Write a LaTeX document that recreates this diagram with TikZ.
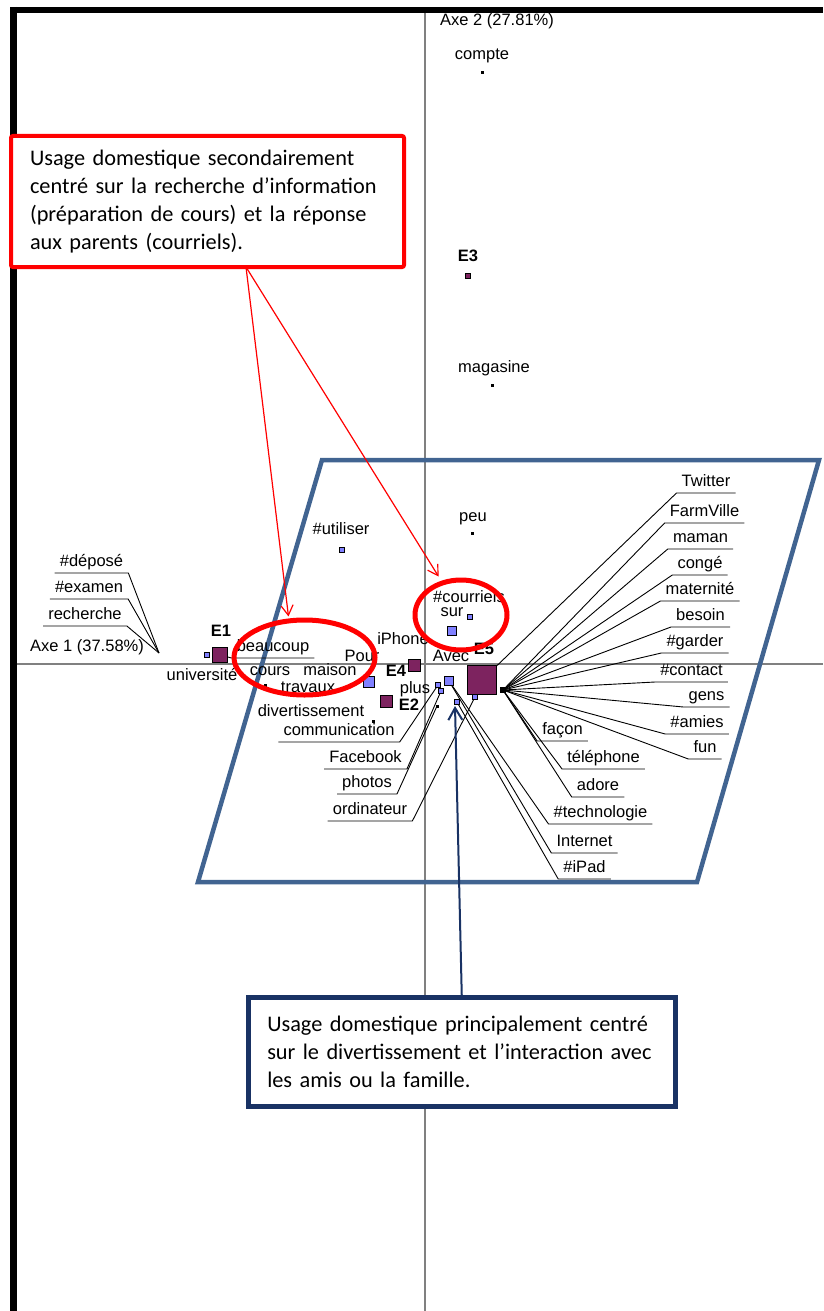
\documentclass[tikz,border=0pt]{standalone}
\usepackage{fontspec}
\setmainfont{Liberation Sans}
\newfontfamily\notefont{Carlito}
\usetikzlibrary{arrows.meta,shapes.geometric}
\definecolor{plum}{RGB}{125,35,95}
\definecolor{lavblue}{RGB}{128,128,255}
\definecolor{zoneblue}{RGB}{65,100,145}
\definecolor{navy}{RGB}{25,50,100}
\definecolor{axgray}{RGB}{128,128,128}
\tikzset{
  axis/.style={axgray, line width=1.4pt},
  lbl/.style={font=\fontsize{16.5}{18}\selectfont, inner sep=0pt, text height=11.5pt, text depth=3.5pt},
  elbl/.style={lbl, font=\fontsize{16.5}{18}\selectfont\bfseries},
  ul/.style={lbl, inner xsep=5pt, inner ysep=1pt, text depth=5pt, anchor=south},
  lead/.style={black, line width=0.9pt},
  dot/.style={fill=black, inner sep=0pt, minimum size=3pt},
  msq/.style={draw=black, fill=plum, line width=1pt, inner sep=0pt},
  bsq/.style={draw=black, fill=lavblue, line width=0.8pt, inner sep=0pt},
  ring/.style={ellipse, draw=red, line width=5pt, inner sep=0pt},
  note/.style={font=\notefont\fontsize{22.3}{28}\selectfont, align=left, anchor=north west, inner xsep=19pt, fill=white},
  redarr/.style={red, line width=1.2pt, -{Straight Barb[length=10pt,width=12pt]}},
  navyarr/.style={navy, line width=2pt, -{Straight Barb[length=12pt,width=14pt]}},
}
\begin{document}
\begin{tikzpicture}[x=1pt,y=-1pt]
\useasboundingbox (0,0) rectangle (823,1311);
% frame and axes
\draw[line width=6pt] (10,10) -- (823,10);
\draw[line width=7pt] (13.5,7) -- (13.5,1311);
\draw[axis] (425,13) -- (425,1311);
\draw[axis] (17,664) -- (823,664);
\node[lbl] (ax2) at (497,22) {Axe 2 (27.81\%)};
\node[lbl] (ax1) at (87,647) {Axe 1 (37.58\%)};
% points
\coordinate (axpt) at (159,653);
\coordinate (hub) at (503,690);
\coordinate (e1) at (220,655);
\coordinate (e5) at (482,680);
\coordinate (sqa) at (449,681);
\coordinate (sqp1) at (438,685);
\coordinate (sqp2) at (441,691);
\coordinate (sqc) at (457,702);
\coordinate (sqe5) at (475,697);
\coordinate (dotf) at (437,706);
% zone
\draw[zoneblue, line width=4.5pt, line join=miter] (322,460) -- (819,460) -- (697,882) -- (198,882) -- cycle;
% labels with leaders
\node[ul] (tw) at (706,493) {Twitter};
\node[ul] (fv) at (704.5,523) {FarmVille};
\node[ul] (mam) at (700.5,549) {maman};
\node[ul] (cg) at (700,575) {congé};
\node[ul] (mat) at (700,601) {maternité};
\node[ul] (bes) at (700.5,627) {besoin};
\node[ul] (gar) at (695,653) {\#garder};
\node[ul] (con) at (691.5,682) {\#contact};
\node[ul] (gen) at (706.5,707) {gens};
\node[ul] (ami) at (697,734) {\#amies};
\node[ul] (fun) at (705,759) {fun};
\node[ul] (fac) at (562.5,741) {façon};
\node[ul] (tel) at (603.5,769) {téléphone};
\node[ul] (ado) at (598,797) {adore};
\node[ul] (tec) at (600.5,824) {\#technologie};
\node[ul] (int) at (584.5,853) {Internet};
\node[ul] (ipd) at (584.5,879) {\#iPad};
\node[ul] (com) at (339,742) {communication};
\node[ul] (fb) at (365.5,769) {Facebook};
\node[ul] (pho) at (367,794) {photos};
\node[ul] (ord) at (370,821) {ordinateur};
\node[ul] (dep) at (91.5,573) {\#déposé};
\node[ul] (exa) at (89,599) {\#examen};
\node[ul] (rec) at (85,626) {recherche};
\node[ul] (bcp) at (273,658) {beaucoup};
\draw[lead] (tw.south east) -- (tw.south west) -- (e5);
\draw[lead] (fv.south east) -- (fv.south west) -- (hub);
\draw[lead] (mam.south east) -- (mam.south west) -- (hub);
\draw[lead] (cg.south east) -- (cg.south west) -- (hub);
\draw[lead] (mat.south east) -- (mat.south west) -- (hub);
\draw[lead] (bes.south east) -- (bes.south west) -- (hub);
\draw[lead] (gar.south east) -- (gar.south west) -- (hub);
\draw[lead] (con.south east) -- (con.south west) -- (hub);
\draw[lead] (gen.south east) -- (gen.south west) -- (hub);
\draw[lead] (ami.south east) -- (ami.south west) -- (hub);
\draw[lead] (fun.south east) -- (fun.south west) -- (hub);
\draw[lead] (fac.south east) -- (fac.south west) -- (hub);
\draw[lead] (tel.south east) -- (tel.south west) -- (hub);
\draw[lead] (ado.south east) -- (ado.south west) -- (hub);
\draw[lead] (tec.south east) -- (tec.south west) -- (sqa);
\draw[lead] (int.south east) -- (int.south west) -- (sqa);
\draw[lead] (ipd.south east) -- (ipd.south west) -- (sqc);
\draw[lead] (com.south west) -- (com.south east) -- (sqp1);
\draw[lead] (fb.south west) -- (fb.south east) -- (sqp2);
\draw[lead] (pho.south west) -- (pho.south east) -- (dotf);
\draw[lead] (ord.south west) -- (ord.south east) -- (sqe5);
\draw[lead] (dep.south west) -- (dep.south east) -- (axpt);
\draw[lead] (exa.south west) -- (exa.south east) -- (axpt);
\draw[lead] (rec.south west) -- (rec.south east) -- (axpt);
\draw[lead] (bcp.south east) -- (bcp.south west) -- (e1);
% markers
\node[dot] (compte) at (482,73) {};
\node[dot] (magasine) at (492,385) {};
\node[dot] (peu) at (472,533) {};
\node[dot] (cours) at (265,685) {};
\node[dot] (maison) at (345,688) {};
\node[dot] (travaux) at (300,695) {};
\node[dot] (divert) at (373,721) {};
\node[dot] (photos) at (dotf) {};
\node[dot, minimum size=6pt] (hubsq) at (hub) {};
\node[msq, minimum size=5pt] (E3) at (468,276) {};
\node[msq, minimum size=15pt] (E1) at (e1) {};
\node[msq, minimum size=12pt] (E4) at (414,665) {};
\node[msq, minimum size=12pt] (E2) at (386,701) {};
\node[msq, minimum size=29pt] (E5) at (e5) {};
\node[bsq, minimum size=5pt] (utiliser) at (342,550) {};
\node[bsq, minimum size=5pt] (univ) at (207,655) {};
\node[bsq, minimum size=9pt] (courriels) at (452,631) {};
\node[bsq, minimum size=5pt] (sur) at (470,617) {};
\node[bsq, minimum size=11pt] (pour) at (369,682) {};
\node[bsq, minimum size=9pt] (avec) at (sqa) {};
\node[bsq, minimum size=5pt] (plus1) at (sqp1) {};
\node[bsq, minimum size=5pt] (plus2) at (sqp2) {};
\node[bsq, minimum size=5pt] (ipad) at (sqc) {};
\node[bsq, minimum size=5pt] (ordi) at (sqe5) {};
% plain labels
\node[lbl] (tcompte) at (482,56) {compte};
\node[elbl] (tE3) at (468,257) {E3};
\node[lbl] (tmag) at (494,368) {magasine};
\node[lbl] (tpeu) at (473,517) {peu};
\node[lbl] (tutil) at (341,530) {\#utiliser};
\node[lbl] (tcour) at (469,598) {\#courriels};
\node[lbl] (tsur) at (452,612) {sur};
\node[lbl] (tiph) at (403,640) {iPhone};
\node[lbl] (tpour) at (362,657) {Pour};
\node[elbl] (tE4) at (396,672) {E4};
\node[lbl] (tavec) at (451,657) {Avec};
\node[elbl] (tE5) at (484,650) {E5};
\node[lbl] (tplus) at (415,689) {plus};
\node[elbl] (tE2) at (409,706) {E2};
\node[elbl] (tE1) at (221,632) {E1};
\node[lbl] (tuniv) at (202,676) {université};
\node[lbl] (tcours) at (270,671) {cours};
\node[lbl] (tmaison) at (330,671) {maison};
\node[lbl] (ttrav) at (308,688) {travaux};
\node[lbl] (tdiv) at (311,712) {divertissement};
% highlighted groups
\node[ring, minimum width=141pt, minimum height=75pt] (ellA) at (304.5,657.5) {};
\node[ring, minimum width=92pt, minimum height=70pt] (ellB) at (461,615) {};
% notes
\node[note, draw=red, line width=4pt, rounded corners=2pt, minimum width=393pt, minimum height=131pt, text width=355pt] (boxA) at (9,134)
  {Usage domestique secondairement\\ centré sur la recherche d’information\\ (préparation de cours) et la réponse\\ aux parents (courriels).};
\node[note, draw=navy, line width=4.5pt, minimum width=427pt, minimum height=109pt, text width=389pt] (boxB) at (246,995)
  {Usage domestique principalement centré\\ sur le divertissement et l’interaction avec\\ les amis ou la famille.};
\coordinate (fork) at (246,267);
\draw[redarr, shorten >=2pt] (fork) -- (ellA.112);
\draw[redarr, shorten >=5pt] (fork) -- (ellB.120);
\draw[navyarr] (boxB.north) -- (455,706);
\end{tikzpicture}
\end{document}
